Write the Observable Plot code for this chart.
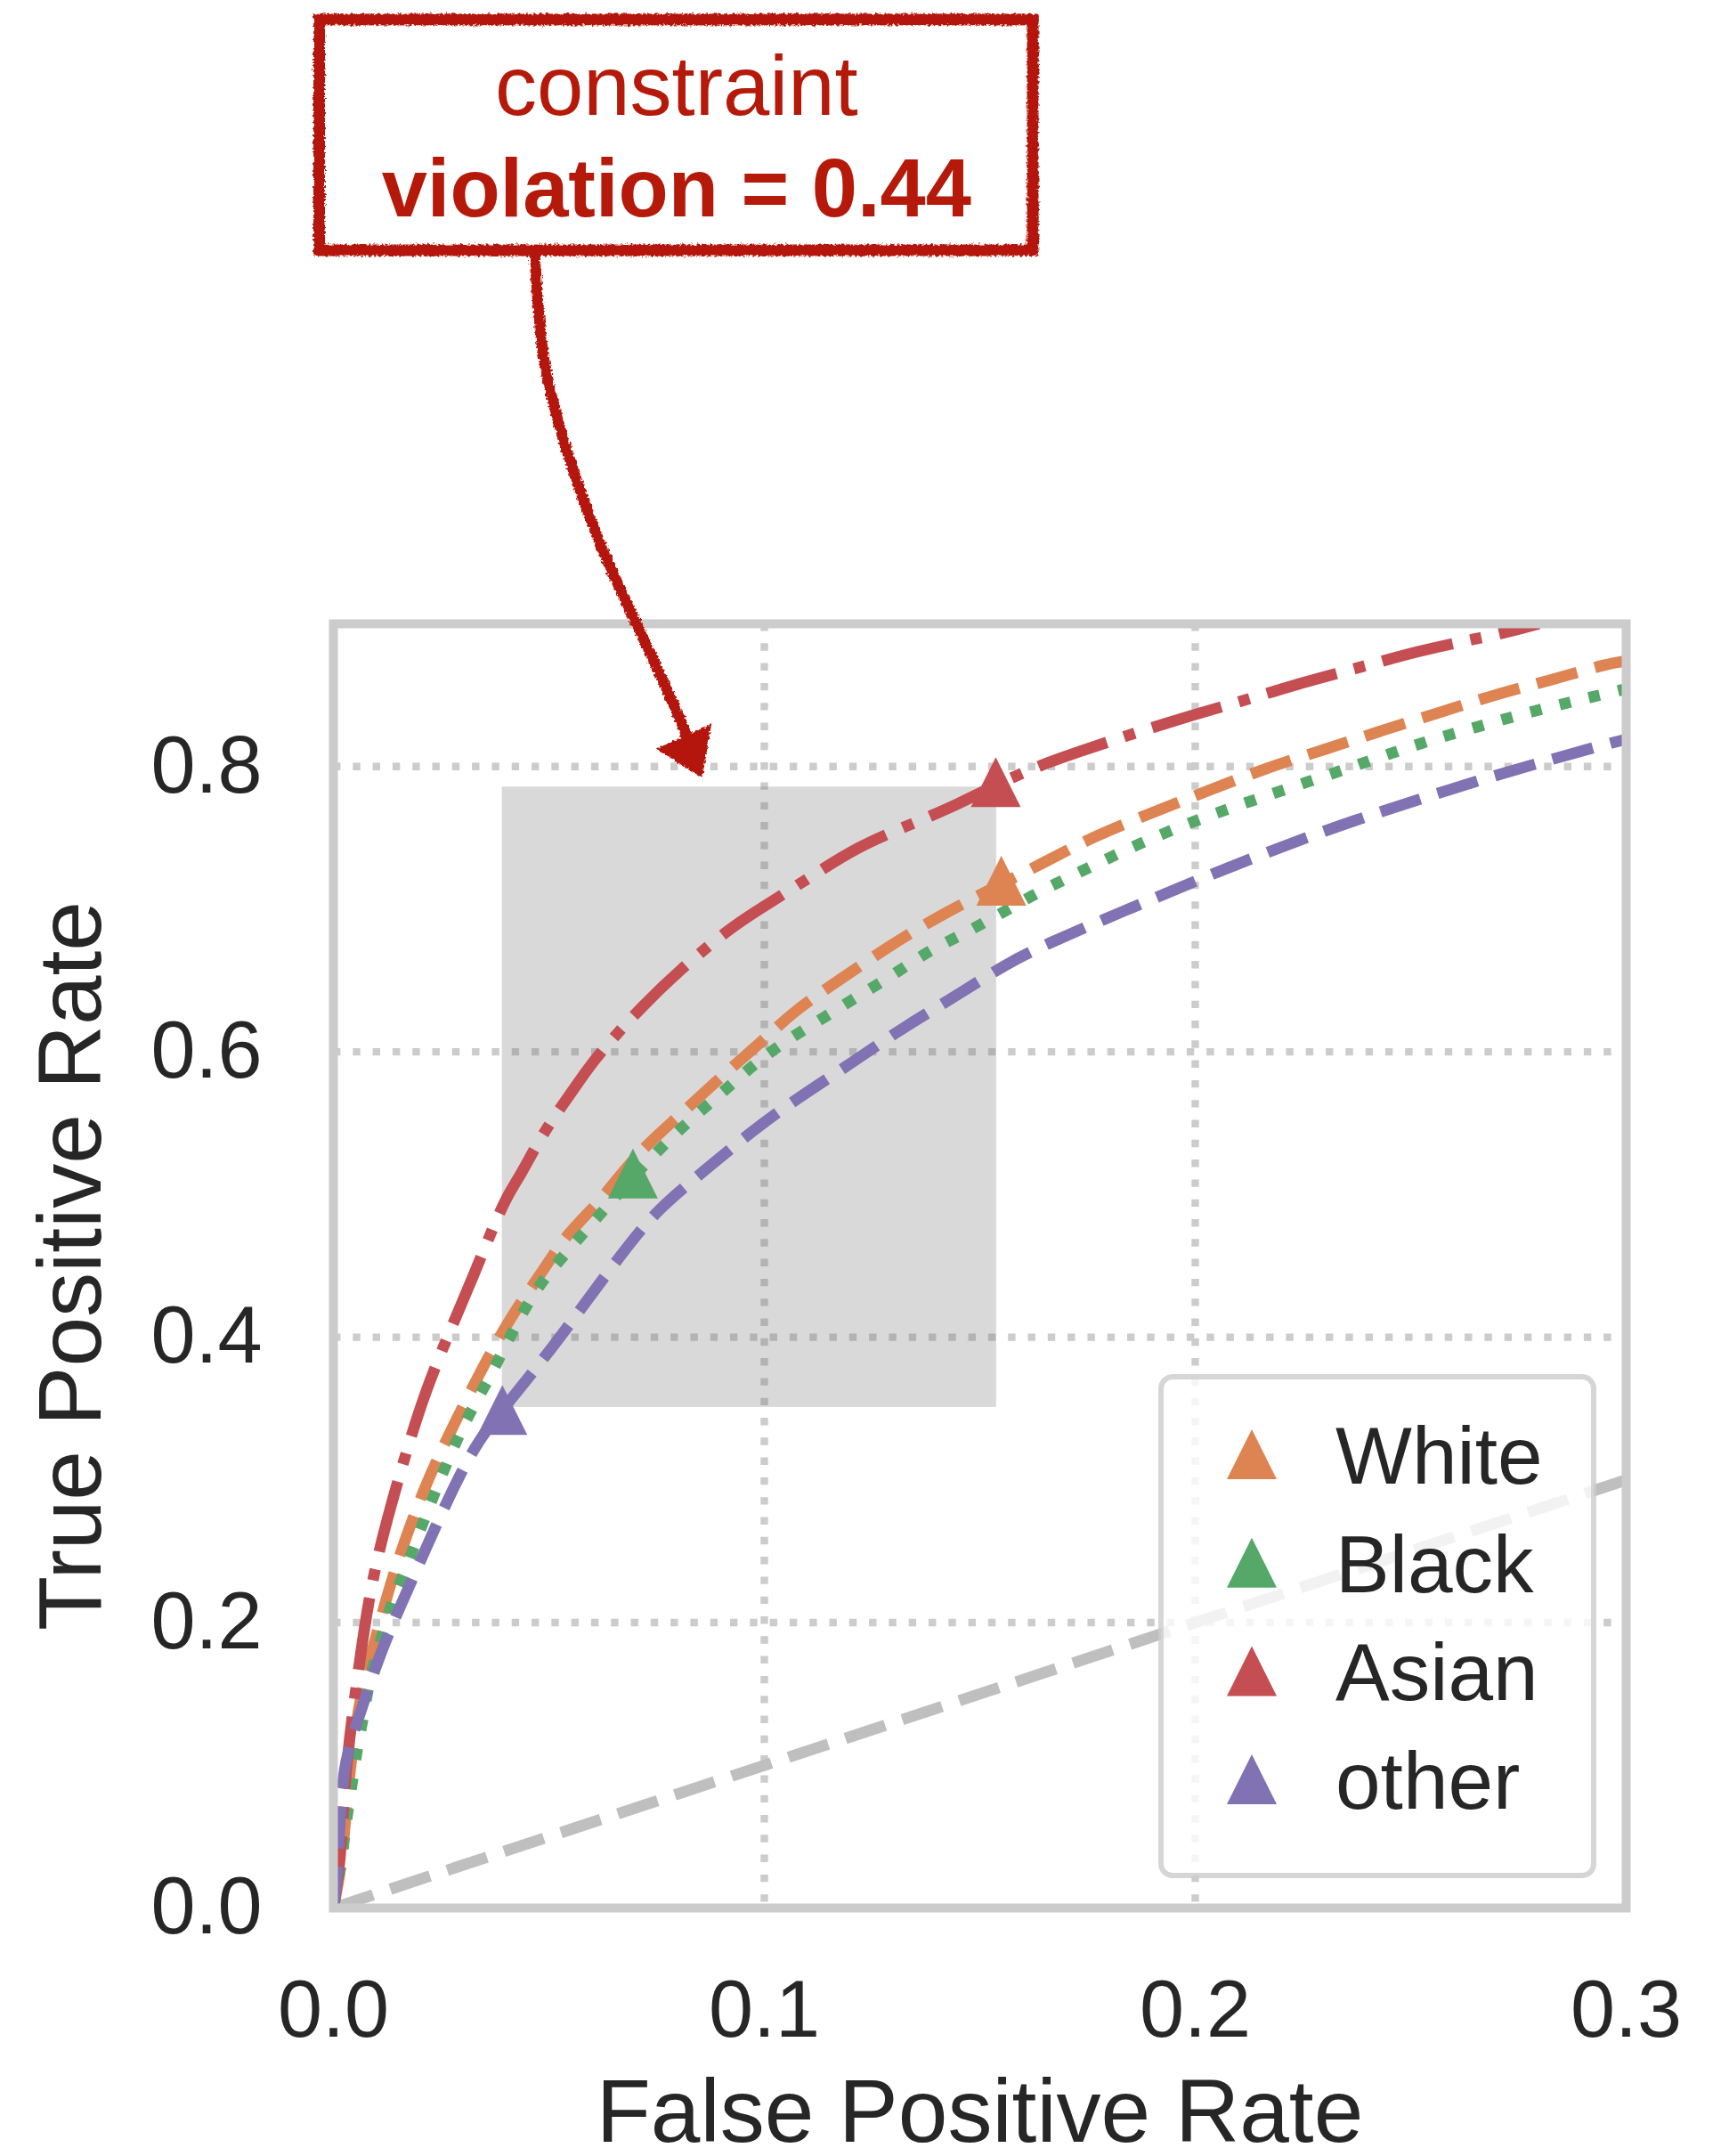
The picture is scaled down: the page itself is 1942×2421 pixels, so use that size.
<!DOCTYPE html>
<html>
<head>
<meta charset="utf-8">
<script src="https://cdn.jsdelivr.net/npm/d3@7"></script>
<script src="https://cdn.jsdelivr.net/npm/@observablehq/plot@0.6"></script>
<style>
  html, body { margin: 0; padding: 0; background: #ffffff; }
  #chart svg { display: block; }
</style>
</head>
<body>
<div id="chart"></div>
<script>
// ---------------- data ----------------
const groups = ["White", "Black", "Asian", "other"];
const groupColors = ["#dd8452", "#55a868", "#c44e52", "#8172b3"];

const whiteFPR = [0, 0.002, 0.003, 0.0044, 0.0065, 0.0096, 0.013, 0.0175, 0.0223, 0.0282, 0.0344, 0.0412, 0.0492, 0.0536, 0.0612, 0.0653, 0.0722, 0.0801, 0.09, 0.1004, 0.1068, 0.1179, 0.1295, 0.1411, 0.1511, 0.1655, 0.1766, 0.191, 0.2026, 0.2165, 0.2298, 0.2431, 0.2565, 0.2692, 0.2825, 0.2953, 0.3];
const whiteTPR = [0, 0.031, 0.0716, 0.1122, 0.1528, 0.1866, 0.2255, 0.2661, 0.3033, 0.3405, 0.3777, 0.415, 0.4488, 0.4704, 0.4933, 0.5089, 0.5338, 0.5547, 0.5828, 0.6098, 0.6285, 0.6514, 0.6753, 0.6961, 0.7117, 0.7336, 0.7513, 0.7689, 0.7825, 0.7991, 0.8116, 0.8251, 0.8376, 0.8501, 0.8605, 0.8719, 0.874];

const blackFPR = [0, 0.002, 0.0027, 0.0037, 0.0048, 0.0058, 0.0072, 0.0082, 0.0099, 0.012, 0.0141, 0.0168, 0.0192, 0.0216, 0.024, 0.0268, 0.0295, 0.0326, 0.0361, 0.0392, 0.0423, 0.0457, 0.0495, 0.0588, 0.0633, 0.0726, 0.0774, 0.0825, 0.0877, 0.0929, 0.098, 0.1035, 0.1094, 0.1151, 0.1211, 0.1269, 0.1327, 0.1384, 0.1448, 0.1505, 0.1569, 0.1633, 0.1755, 0.1877, 0.2005, 0.2132, 0.2265, 0.2398, 0.2526, 0.2659, 0.2792, 0.2925, 0.3];
const blackTPR = [0, 0.0343, 0.0547, 0.075, 0.0969, 0.1172, 0.1375, 0.1578, 0.1764, 0.1985, 0.2187, 0.2373, 0.2576, 0.2762, 0.2948, 0.3152, 0.3338, 0.3524, 0.371, 0.3896, 0.4082, 0.4268, 0.4438, 0.4756, 0.4912, 0.5224, 0.5369, 0.5515, 0.565, 0.5786, 0.5921, 0.6046, 0.616, 0.6264, 0.6379, 0.6483, 0.6597, 0.6711, 0.6805, 0.6898, 0.7003, 0.7116, 0.7294, 0.7471, 0.7627, 0.7762, 0.7896, 0.8032, 0.8168, 0.8282, 0.8396, 0.849, 0.8544];

const asianFPR = [0, 0.0017, 0.0024, 0.0037, 0.0055, 0.0075, 0.0099, 0.0134, 0.0173, 0.0214, 0.0266, 0.0319, 0.0371, 0.0402, 0.0437, 0.0464, 0.0505, 0.0551, 0.0585, 0.0621, 0.0721, 0.0816, 0.0916, 0.0984, 0.11, 0.1216, 0.1342, 0.1453, 0.1537, 0.1633, 0.1722, 0.1855, 0.1988, 0.2121, 0.2254, 0.2387, 0.252, 0.2653, 0.2731, 0.2797];
const asianTPR = [0, 0.034, 0.0787, 0.119, 0.16, 0.2035, 0.2424, 0.283, 0.3236, 0.3625, 0.4014, 0.4386, 0.4775, 0.4985, 0.5151, 0.5307, 0.5515, 0.5709, 0.5859, 0.6004, 0.6336, 0.6606, 0.6856, 0.6992, 0.7211, 0.744, 0.7596, 0.7741, 0.787, 0.8001, 0.8096, 0.823, 0.8356, 0.8469, 0.8594, 0.8698, 0.8812, 0.8896, 0.8946, 0.9];

const otherFPR = [0, 0.001, 0.0013, 0.002, 0.003, 0.0065, 0.011, 0.0161, 0.0213, 0.0268, 0.033, 0.0392, 0.0419, 0.0509, 0.0591, 0.068, 0.0755, 0.0863, 0.097, 0.108, 0.1197, 0.1311, 0.1427, 0.1566, 0.1661, 0.1788, 0.1921, 0.2043, 0.2176, 0.2304, 0.2437, 0.2565, 0.2697, 0.2831, 0.2953, 0.3];
const otherTPR = [0, 0.026, 0.0513, 0.085, 0.1073, 0.1393, 0.1799, 0.2154, 0.2509, 0.2881, 0.3253, 0.349, 0.3591, 0.393, 0.4268, 0.463, 0.4905, 0.5172, 0.5443, 0.5682, 0.591, 0.615, 0.6358, 0.6628, 0.6763, 0.6929, 0.7096, 0.7252, 0.7408, 0.7554, 0.7689, 0.7814, 0.7939, 0.8053, 0.8157, 0.819];

// operating points (triangles), in group order
const pointFPR = [0.155, 0.0695, 0.1537, 0.0392];
const pointTPR = [0.720, 0.5147, 0.789, 0.349];

// shaded constraint region
const regionFPR = [0.0392, 0.1539];
const regionTPR = [0.3508, 0.7856];

// chance diagonal
const chanceFPR = [0, 0.3];
const chanceTPR = [0, 0.3];

const xTicks = [0, 0.1, 0.2, 0.3];
const yTicks = [0, 0.2, 0.4, 0.6, 0.8];
const xGrid = [0.1, 0.2];
const yGrid = [0.2, 0.4, 0.6, 0.8];

const annotationLines = ["constraint", "violation = 0.44"];

// ---------------- build tables ----------------
const fprs = [whiteFPR, blackFPR, asianFPR, otherFPR];
const tprs = [whiteTPR, blackTPR, asianTPR, otherTPR];
const curves = groups.map((g, i) => fprs[i].map((x, j) => ({group: g, fpr: x, tpr: tprs[i][j]})));
const points = groups.map((g, i) => ({group: g, fpr: pointFPR[i], tpr: pointTPR[i], color: groupColors[i]}));
const region = [{x1: regionFPR[0], x2: regionFPR[1], y1: regionTPR[0], y2: regionTPR[1]}];
const chance = chanceFPR.map((x, i) => ({fpr: x, tpr: chanceTPR[i]}));

// ---------------- styles ----------------
const LW = 12.7;
const dashed = `${3.7 * LW} ${1.6 * LW}`;
const dotted = `${1 * LW} ${1.65 * LW}`;
const dashdot = `${6.4 * LW} ${1.6 * LW} ${1 * LW} ${1.6 * LW}`;
const dashes = {White: dashed, Black: dotted, Asian: dashdot, other: dashed};
const annotRed = "#b4190a";

// matplotlib-like "^" marker (square bounding box)
const triangleUp = {
  draw(ctx, size) {
    const h = Math.sqrt(size / Math.PI);
    ctx.moveTo(0, -h);
    ctx.lineTo(h, h);
    ctx.lineTo(-h, h);
    ctx.closePath();
  }
};
// filled arrow head with its tip at the origin, rotated to follow the arrow
const arrowHead = {
  draw(ctx, size) {
    const r = Math.sqrt(size / Math.PI);
    const a = -24 * Math.PI / 180, c = Math.cos(a), s = Math.sin(a);
    const pts = [[0, 0], [-r, -1.5 * r], [r, -1.5 * r]].map(([x, y]) => [x * c - y * s, x * s + y * c]);
    ctx.moveTo(pts[0][0], pts[0][1]);
    ctx.lineTo(pts[1][0], pts[1][1]);
    ctx.lineTo(pts[2][0], pts[2][1]);
    ctx.closePath();
  }
};

// annotation geometry (data units; above the axes)
const annotBox = [{x1: -0.0032, x2: 0.1624, y1: 1.1615, y2: 1.3232}];
const annotTextPos = [{x: 0.0796, y: 1.2570}, {x: 0.0796, y: 1.1855}];
const arrowPath = [[0.0467, 1.1615], [0.0488, 1.0869], [0.0543, 1.0203], [0.0619, 0.9562], [0.0708, 0.8969], [0.0798, 0.8377], [0.0826, 0.8150]];
const arrowTip = [[0.0856, 0.7920]];

const marks = [
  Plot.ruleX(xGrid, {stroke: "#cccccc", strokeWidth: 8.4, strokeDasharray: "8.4 13.9"}),
  Plot.ruleY(yGrid, {stroke: "#cccccc", strokeWidth: 8.4, strokeDasharray: "8.4 13.9"}),
  Plot.rect(region, {x1: "x1", x2: "x2", y1: "y1", y2: "y2", fill: "#6a6a6a", fillOpacity: 0.255}),
  Plot.line(chance, {x: "fpr", y: "tpr", stroke: "#bfbfbf", strokeWidth: LW, strokeDasharray: dashed, strokeLinecap: "butt", clip: true}),
  ...curves.map((c, i) => Plot.line(c, {
    x: "fpr", y: "tpr", stroke: groupColors[i], strokeWidth: LW,
    strokeDasharray: dashes[groups[i]], strokeLinecap: "butt", strokeLinejoin: "round",
    curve: "basis", clip: true
  })),
  Plot.frame({stroke: "#cccccc", strokeWidth: 10}),
  Plot.dot(points, {x: "fpr", y: "tpr", fill: "color", r: 28, symbol: triangleUp, stroke: null}),
  // annotation
  Plot.rect(annotBox, {x1: "x1", x2: "x2", y1: "y1", y2: "y2", fill: "white", stroke: annotRed, strokeWidth: 13, ariaDescription: "rough"}),
  Plot.line(arrowPath, {x: d => d[0], y: d => d[1], stroke: annotRed, strokeWidth: 12, curve: "natural", strokeLinecap: "round", ariaDescription: "rough"}),
  Plot.dot(arrowTip, {x: d => d[0], y: d => d[1], r: 34, symbol: arrowHead, fill: annotRed, stroke: null, ariaDescription: "rough"}),
  Plot.text([annotationLines[0]], {x: () => annotTextPos[0].x, y: () => annotTextPos[0].y, text: d => d, fill: annotRed, fontSize: 94, textAnchor: "middle", lineAnchor: "bottom"}),
  Plot.text([annotationLines[1]], {x: () => annotTextPos[1].x, y: () => annotTextPos[1].y, text: d => d, fill: annotRed, fontSize: 92, fontWeight: "bold", textAnchor: "middle", lineAnchor: "bottom"}),
  // axis titles
  Plot.text(["False Positive Rate"], {frameAnchor: "bottom", dy: 262, text: d => d, fontSize: 100, textAnchor: "middle", lineAnchor: "bottom"}),
  Plot.text(["True Positive Rate"], {frameAnchor: "left", dx: -262, rotate: -90, text: d => d, fontSize: 100, textAnchor: "middle", lineAnchor: "bottom"})
];

const chart = Plot.plot({
  width: 1942,
  height: 2421,
  marginLeft: 374,
  marginRight: 116,
  marginTop: 700,
  marginBottom: 279,
  style: {
    fontFamily: "'Liberation Sans', Arial, Helvetica, sans-serif",
    fontSize: "90px",
    color: "#262626",
    background: "#ffffff",
    overflow: "visible"
  },
  x: {domain: [0, 0.3], ticks: xTicks, tickFormat: d3.format(".1f"), tickSize: 0, tickPadding: 81, label: null},
  y: {domain: [0, 0.9], ticks: yTicks, tickFormat: d3.format(".1f"), tickSize: 0, tickPadding: 80, label: null},
  marks
});

document.getElementById("chart").appendChild(chart);

// ---------------- hand-drawn look for the annotation ----------------
const svg = d3.select(chart);
const defs = svg.insert("defs", ":first-child");
const filt = defs.append("filter").attr("id", "rough")
  .attr("x", "-10%").attr("y", "-10%").attr("width", "120%").attr("height", "120%");
filt.append("feTurbulence").attr("type", "fractalNoise").attr("baseFrequency", "0.35")
  .attr("numOctaves", 2).attr("seed", 4).attr("result", "noise");
filt.append("feDisplacementMap").attr("in", "SourceGraphic").attr("in2", "noise")
  .attr("scale", 6).attr("xChannelSelector", "R").attr("yChannelSelector", "G");
svg.selectAll('[aria-description="rough"]').attr("filter", "url(#rough)");

// ---------------- legend ----------------
const lg = svg.append("g").attr("class", "legend").attr("text-anchor", "start");
lg.append("rect")
  .attr("x", 1304).attr("y", 1546).attr("width", 486).attr("height", 560).attr("rx", 13)
  .attr("fill", "#ffffff").attr("fill-opacity", 0.8)
  .attr("stroke", "#cccccc").attr("stroke-opacity", 0.8).attr("stroke-width", 6);
groups.forEach((g, i) => {
  const cy = 1633 + i * 121.7;
  lg.append("path")
    .attr("transform", `translate(1406,${cy})`)
    .attr("d", d3.symbol(triangleUp, Math.PI * 28 * 28)())
    .attr("fill", groupColors[i]);
  lg.append("text")
    .attr("x", 1500).attr("y", cy + 33)
    .attr("text-anchor", "start")
    .attr("font-size", 91).attr("fill", "#262626")
    .text(g);
});
</script>
</body>
</html>
